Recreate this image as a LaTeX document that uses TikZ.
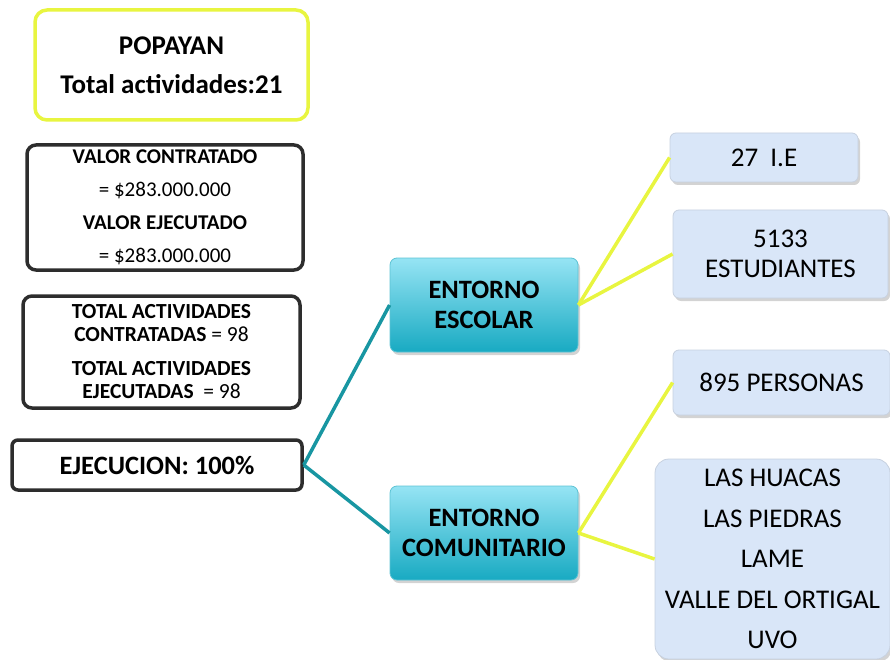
\documentclass[tikz,border=0pt]{standalone}
\usepackage{fontspec}
\setmainfont{Carlito}
\usetikzlibrary{calc,shadows}
\definecolor{amarillo}{RGB}{232,245,64}
\definecolor{verdeazul}{RGB}{24,150,162}
\definecolor{celeste}{RGB}{217,230,248}
\definecolor{cianclaro}{RGB}{150,228,244}
\definecolor{cianoscuro}{RGB}{24,170,194}
\definecolor{gris}{RGB}{45,45,45}
\tikzset{line/.style={draw, line width=3.5pt}}

\begin{document}
\begin{tikzpicture}[x=1pt,y=-1pt]
\tikzstyle{cuadro} = [rectangle, rounded corners=9pt, draw=gris, line width=3.5pt, fill=white, align=center, inner sep=0pt]
\tikzstyle{entorno} = [rectangle, rounded corners=7pt, draw=cianoscuro!70!white, line width=0.8pt, top color=cianclaro, bottom color=cianoscuro, align=center, font=\fontsize{26.5}{30}\selectfont\bfseries, drop shadow={shadow xshift=2pt, shadow yshift=-3pt, opacity=.35}, inner sep=0pt]
\tikzstyle{dato} = [rectangle, rounded corners=6pt, draw=celeste!80!gray, line width=0.8pt, fill=celeste, align=center, font=\fontsize{27}{30}\selectfont, drop shadow={shadow xshift=2pt, shadow yshift=-3pt, opacity=.35}, inner sep=0pt]
\useasboundingbox (0,0) rectangle (890,660);

% cuadros izquierda
    \node [cuadro, draw=amarillo, rounded corners=12pt, minimum width=273pt, minimum height=110pt, font=\fontsize{27}{32}\selectfont\bfseries] (popayan) at (171.5,65) {POPAYAN\\[7pt] Total actividades:21};
    \node [cuadro, minimum width=276pt, minimum height=125pt, font=\fontsize{21}{25}\selectfont] (valor) at (165,207.5) {\textbf{VALOR CONTRATADO}\\[8pt] = \$283.000.000\\[8pt] \textbf{VALOR EJECUTADO}\\[8pt] = \$283.000.000};
    \node [cuadro, minimum width=277pt, minimum height=112pt, font=\fontsize{21.5}{23}\selectfont] (total) at (161.5,352) {\textbf{TOTAL ACTIVIDADES}\\ \textbf{CONTRATADAS} = 98\\[11pt] \textbf{TOTAL ACTIVIDADES}\\ \textbf{EJECUTADAS} \ = 98};
    \node [cuadro, rounded corners=6pt, minimum width=290pt, minimum height=50pt, font=\fontsize{26.5}{30}\selectfont\bfseries] (ejecucion) at (157,465) {EJECUCION: 100\%};
% entornos
    \node [entorno, minimum width=188pt, minimum height=94pt] (escolar) at (484,305) {ENTORNO\\ ESCOLAR};
    \node [entorno, minimum width=188pt, minimum height=94pt] (comunitario) at (484,533) {ENTORNO\\ COMUNITARIO};
% datos
    \node [dato, minimum width=188pt, minimum height=49pt] (ie) at (764,157.5) {27\ \ I.E};
    \node [dato, minimum width=215pt, minimum height=88pt] (estudiantes) at (780.5,254) {5133\\ ESTUDIANTES};
    \node [dato, minimum width=217pt, minimum height=65pt] (personas) at (781.5,382.5) {895 PERSONAS};
    \node [dato, rounded corners=14pt, minimum width=235pt, minimum height=200pt] (veredas) at (772.5,559) {LAS HUACAS\\[10.5pt] LAS PIEDRAS\\[10.5pt] LAME\\[10.5pt] VALLE DEL ORTIGAL\\[10.5pt] UVO};
% lineas
    \path [line, draw=verdeazul] (ejecucion.east) -- (escolar.west);
    \path [line, draw=verdeazul] (ejecucion.east) -- (comunitario.west);
    \path [line, draw=amarillo] (escolar.east) -- (ie.west);
    \path [line, draw=amarillo] (escolar.east) -- (estudiantes.west);
    \path [line, draw=amarillo] (comunitario.east) -- (personas.west);
    \path [line, draw=amarillo] (comunitario.east) -- (veredas.west);
\end{tikzpicture}
\end{document}
